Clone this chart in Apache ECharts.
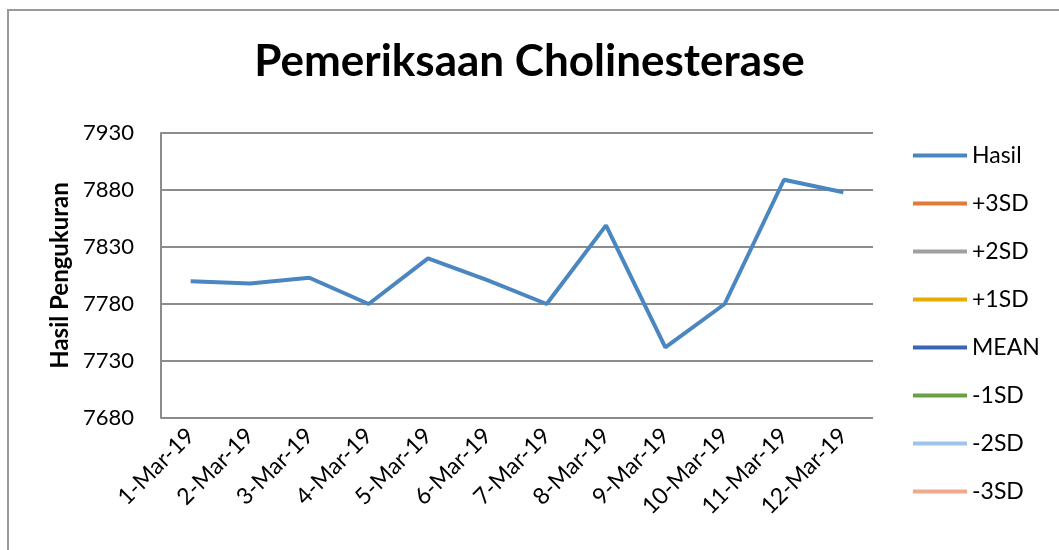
<!DOCTYPE html>
<html>
<head>
<meta charset="utf-8">
<script src="https://cdn.jsdelivr.net/npm/echarts@6/dist/echarts.min.js"></script>
<style>
  html, body { margin: 0; padding: 0; background: #fff; }
  #chart { width: 1059px; height: 550px; }
</style>
</head>
<body>
<div id="chart"></div>
<script>
// categories (x axis)
var tanggal = ['1-Mar-19', '2-Mar-19', '3-Mar-19', '4-Mar-19', '5-Mar-19', '6-Mar-19',
               '7-Mar-19', '8-Mar-19', '9-Mar-19', '10-Mar-19', '11-Mar-19', '12-Mar-19'];
// hasil pengukuran
var hasil = [7800, 7798, 7803, 7780, 7820, 7801, 7780, 7849, 7742, 7780, 7889, 7878];
// garis kontrol (kosong di gambar)
var plus3SD = [];
var plus2SD = [];
var plus1SD = [];
var mean = [];
var minus1SD = [];
var minus2SD = [];
var minus3SD = [];

var seriesNames = ['Hasil', '+3SD', '+2SD', '+1SD', 'MEAN', '-1SD', '-2SD', '-3SD'];
var seriesData = [hasil, plus3SD, plus2SD, plus1SD, mean, minus1SD, minus2SD, minus3SD];
var seriesColors = ['#4A86C0', '#E07B39', '#A0A0A0', '#E6AD00', '#3D64B0', '#6AA145', '#9FC3E9', '#F0A98E'];

var font = 'Lato, "Open Sans", sans-serif';

var chart = echarts.init(document.getElementById('chart'));
chart.setOption({
    animation: false,
    textStyle: { fontFamily: font },
    title: {
        text: 'Pemeriksaan Cholinesterase',
        left: 'center',
        top: 35,
        textStyle: { fontSize: 44, fontWeight: 'bold', color: '#000', fontFamily: font }
    },
    graphic: [{
        type: 'rect',
        shape: { x: 8, y: 10, width: 1070, height: 560 },
        style: { fill: 'none', stroke: '#999', lineWidth: 2 },
        silent: true
    }],
    grid: { left: 161, right: 186, top: 133, bottom: 132 },
    legend: {
        orient: 'vertical',
        left: 913,
        top: 144,
        padding: 0,
        icon: 'rect',
        itemWidth: 54,
        itemHeight: 4,
        itemGap: 25,
        data: seriesNames,
        textStyle: { fontSize: 23, color: '#000', fontFamily: font }
    },
    xAxis: {
        type: 'category',
        data: tanggal,
        boundaryGap: true,
        axisLine: { show: false },
        axisTick: { show: false },
        axisLabel: { rotate: 45, fontSize: 23, color: '#000', margin: 14, interval: 0 }
    },
    yAxis: {
        type: 'value',
        min: 7680,
        max: 7930,
        interval: 50,
        name: 'Hasil Pengukuran',
        nameLocation: 'middle',
        nameGap: 70,
        nameRotate: 90,
        nameTextStyle: { fontSize: 24, fontWeight: 'bold', color: '#000' },
        axisLine: { show: true, lineStyle: { color: '#8c8c8c', width: 2 } },
        axisTick: { show: false },
        axisLabel: { fontSize: 22, color: '#000', margin: 27, formatter: function (v) { return String(v); } },
        splitLine: { lineStyle: { color: '#8c8c8c', width: 2 } }
    },
    series: seriesNames.map(function (name, i) {
        return {
            name: name,
            type: 'line',
            data: seriesData[i],
            symbol: 'none',
            color: seriesColors[i],
            lineStyle: { width: 4, color: seriesColors[i] }
        };
    })
});
</script>
</body>
</html>
